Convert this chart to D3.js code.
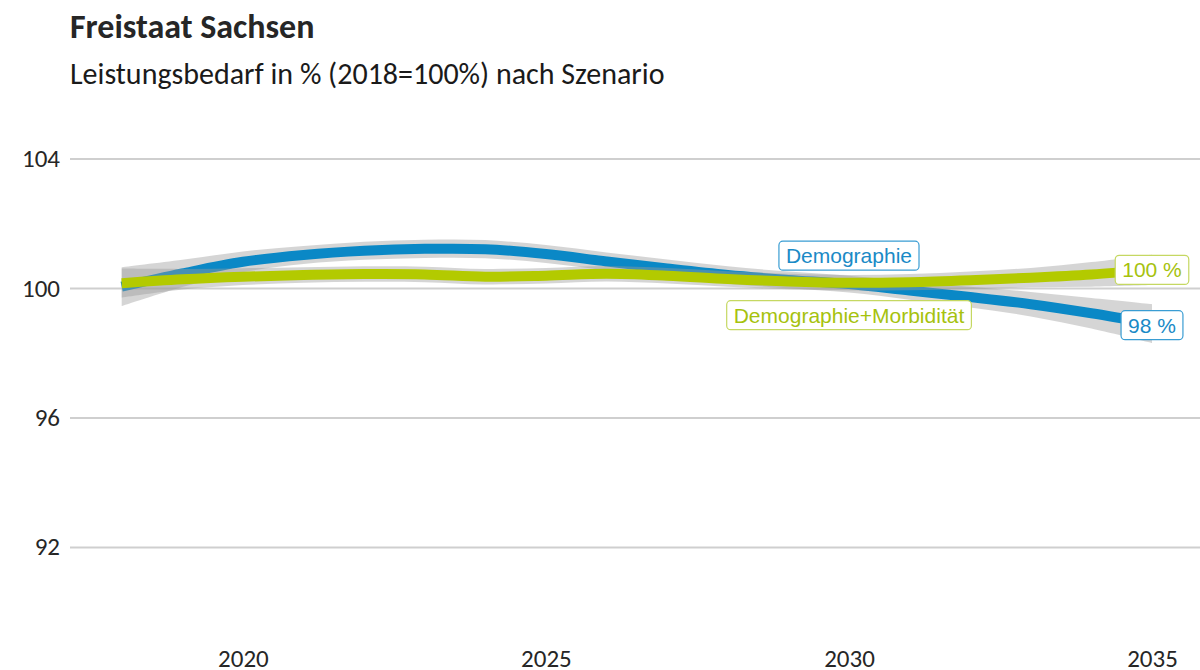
<!DOCTYPE html>
<html lang="de">
<head>
<meta charset="utf-8">
<title>Freistaat Sachsen</title>
<script src="https://d3js.org/d3.v7.min.js"></script>
<style>
  body { margin: 0; background: #fff; }
  .title { font-family: Carlito, Lato, "Open Sans", sans-serif; font-weight: bold; fill: #262626; }
  .sub { font-family: Carlito, Lato, "Open Sans", sans-serif; fill: #1a1a1a; }
  .tick text { font-family: Carlito, Lato, "Open Sans", sans-serif; fill: #262626; }
  .lab { font-family: "Liberation Sans", Arial, sans-serif; }
</style>
</head>
<body>
<script>
// years and smoothed values
var years = [2018, 2019, 2020, 2021, 2022, 2023, 2024, 2025, 2026, 2027, 2028, 2029, 2030, 2031, 2032, 2033, 2034, 2035];
var demo =  [100.04, 100.45, 100.81, 101.02, 101.15, 101.21, 101.2, 101.05, 100.82, 100.6, 100.4, 100.25, 100.12, 99.92, 99.72, 99.5, 99.22, 98.9];
var demoSe = [0.6, 0.42, 0.32, 0.28, 0.28, 0.28, 0.28, 0.28, 0.28, 0.28, 0.27, 0.26, 0.26, 0.28, 0.32, 0.38, 0.47, 0.6];
var morb =  [100.15, 100.27, 100.35, 100.4, 100.43, 100.42, 100.35, 100.38, 100.44, 100.38, 100.28, 100.2, 100.16, 100.18, 100.24, 100.32, 100.42, 100.56];
var morbSe = [0.45, 0.32, 0.26, 0.24, 0.24, 0.24, 0.24, 0.24, 0.24, 0.24, 0.24, 0.24, 0.24, 0.25, 0.27, 0.3, 0.38, 0.47];
var yTicks = [92, 96, 100, 104];
var xTicks = [2020, 2025, 2030, 2035];

var w = 1200, h = 670;
var blue = "#0a88c6", green = "#b3ca00";

var svg = d3.select("body").append("svg")
    .attr("width", w)
    .attr("height", h);

svg.append("text").attr("class", "title")
    .attr("x", 70).attr("y", 38)
    .style("font-size", "34px")
    .text("Freistaat Sachsen");
svg.append("text").attr("class", "sub")
    .attr("x", 70).attr("y", 84)
    .style("font-size", "30px")
    .text("Leistungsbedarf in % (2018=100%) nach Szenario");

var x = d3.scaleLinear().domain([2018, 2035]).range([121.7, 1152]);
var y = d3.scaleLinear().domain([89, 105.5]).range([644, 110]);

// gridlines + y labels
var yAxis = svg.append("g")
    .attr("transform", "translate(70,0)")
    .call(d3.axisLeft(y).tickValues(yTicks).tickSize(-1130).tickPadding(10).tickFormat(d3.format("d")));
yAxis.select(".domain").remove();
yAxis.selectAll(".tick line").attr("stroke", "#cfcfcf").attr("stroke-width", 2);
yAxis.selectAll(".tick text").style("font-size", "25px");

var xAxis = svg.append("g")
    .attr("transform", "translate(0,639)")
    .call(d3.axisBottom(x).tickValues(xTicks).tickSize(0).tickPadding(10).tickFormat(d3.format("d")));
xAxis.select(".domain").remove();
xAxis.selectAll(".tick text").style("font-size", "25px");

function rows(vals, se) {
  return years.map(function(yr, i) { return {year: yr, v: vals[i], se: se[i]}; });
}

var area = d3.area()
    .x(function(d) { return x(d.year); })
    .y0(function(d) { return y(d.v - d.se); })
    .y1(function(d) { return y(d.v + d.se); })
    .curve(d3.curveCatmullRom);

var line = d3.line()
    .x(function(d) { return x(d.year); })
    .y(function(d) { return y(d.v); })
    .curve(d3.curveCatmullRom);

var series = [
  {name: "Demographie", data: rows(demo, demoSe), color: blue},
  {name: "Demographie+Morbidität", data: rows(morb, morbSe), color: green}
];

series.forEach(function(s) {
  svg.append("path").datum(s.data)
      .attr("d", area)
      .attr("fill", "#9a9a9a")
      .attr("fill-opacity", 0.42);
  svg.append("path").datum(s.data)
      .attr("d", line)
      .attr("fill", "none")
      .attr("stroke", s.color)
      .attr("stroke-width", 10);
});

// boxed labels
function label(txt, cx, cy, stroke, fill) {
  var g = svg.append("g");
  var t = g.append("text").attr("class", "lab")
      .attr("x", cx).attr("y", cy)
      .attr("text-anchor", "middle")
      .attr("dominant-baseline", "central")
      .style("font-size", "21px")
      .attr("fill", fill)
      .text(txt);
  var bb = t.node().getBBox();
  g.insert("rect", "text")
      .attr("x", bb.x - 7).attr("y", cy - 14.5)
      .attr("width", bb.width + 14).attr("height", 29)
      .attr("rx", 4)
      .attr("fill", "#fff")
      .attr("stroke", stroke)
      .attr("stroke-width", 1.2);
}

label("Demographie", x(2030), y(101.0), "#3a9dd3", "#1a8ac6");
label("Demographie+Morbidität", x(2030), y(99.16), "#c5d862", "#a6c20e");
label("100 %", x(2035), y(morb[morb.length - 1]), "#c5d862", "#a6c20e");
label("98 %", x(2035), y(demo[demo.length - 1] - 0.05), "#3a9dd3", "#1a8ac6");
</script>
</body>
</html>
